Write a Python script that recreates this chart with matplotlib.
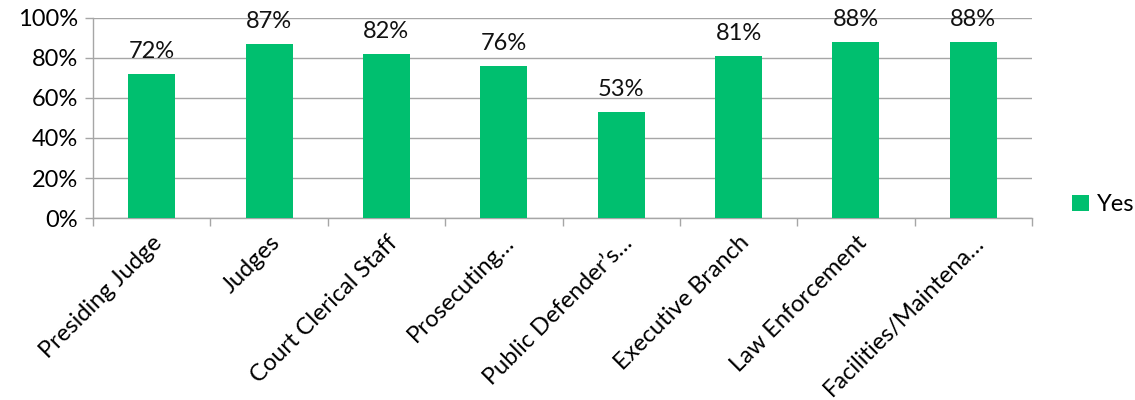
import matplotlib
matplotlib.use("Agg")
import matplotlib.pyplot as plt
from matplotlib.ticker import PercentFormatter, FixedLocator

categories = ["Presiding Judge", "Judges", "Court Clerical Staff", "Prosecuting\u2026",
              "Public Defender\u2019s\u2026", "Executive Branch", "Law Enforcement",
              "Facilities/Maintena\u2026"]
yes_values = [72, 87, 82, 76, 53, 81, 88, 88]
y_ticks = [0, 20, 40, 60, 80, 100]

plt.rcParams["font.family"] = ["Lato", "DejaVu Sans"]
green = "#00BF6F"
grid_gray = "#A6A6A6"
fs = 17

fig = plt.figure(figsize=(11.35, 4.0), dpi=100)
ax = fig.add_axes([93 / 1135, 1 - 218 / 400, (1032 - 93) / 1135, 200 / 400])

x = list(range(len(categories)))
bars = ax.bar(x, yes_values, width=0.40, color=green, label="Yes", zorder=3)

for xi, v in zip(x, yes_values):
    ax.annotate(f"{v}%", (xi, v), xytext=(0, 9), textcoords="offset points",
                ha="center", va="bottom", fontsize=fs, color="#111111")

ax.set_xlim(-0.5, len(categories) - 0.5)
ax.set_ylim(0, 100)
ax.yaxis.set_major_locator(FixedLocator(y_ticks))
ax.yaxis.set_major_formatter(PercentFormatter(decimals=0))
ax.grid(axis="y", color=grid_gray, linewidth=1.0, zorder=0)

ax.set_xticks(x)
ax.set_xticklabels(categories, rotation=45, ha="right", va="top",
                   rotation_mode="anchor", fontsize=fs)
ax.xaxis.set_minor_locator(FixedLocator([i - 0.5 for i in range(len(categories) + 1)]))
ax.tick_params(axis="x", which="major", length=0, pad=10)
ax.tick_params(axis="x", which="minor", length=6, color=grid_gray, width=1.0)
ax.tick_params(axis="y", length=6, color=grid_gray, width=1.0, labelsize=fs, pad=5)

for side in ("top", "right"):
    ax.spines[side].set_visible(False)
for side in ("left", "bottom"):
    ax.spines[side].set_color(grid_gray)
    ax.spines[side].set_linewidth(1.0)

fig.legend(handles=[bars], labels=["Yes"], loc="center left",
           bbox_to_anchor=(1072 / 1135, 1 - 205 / 400), frameon=False,
           borderpad=0, borderaxespad=0, fontsize=fs,
           handlelength=0.7, handleheight=0.7, handletextpad=0.35)

fig.savefig("out.png", dpi=100, facecolor="white")
